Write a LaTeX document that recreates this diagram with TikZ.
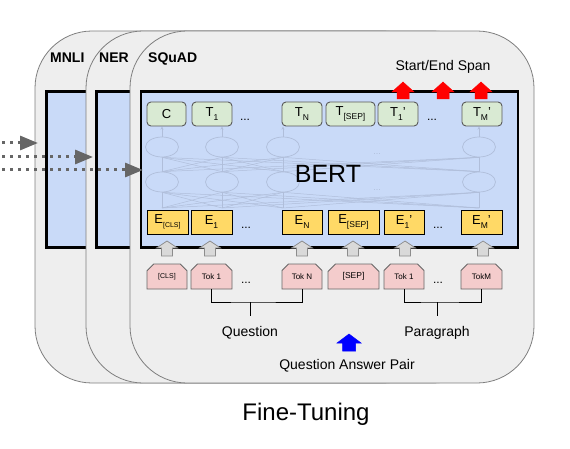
\documentclass[tikz,border=0pt]{standalone}
\usepackage{fontspec}
\setmainfont{Liberation Sans}
\usetikzlibrary{shapes.misc,shapes.geometric,arrows.meta}
\definecolor{cardfill}{HTML}{EEEEEE}
\definecolor{cardline}{HTML}{7F7F7F}
\definecolor{panelfill}{HTML}{C9DAF8}
\definecolor{tfill}{HTML}{D9EAD3}
\definecolor{tline}{HTML}{595959}
\definecolor{efill}{HTML}{FFD966}
\definecolor{tokfill}{HTML}{F4CCCC}
\definecolor{tokline}{HTML}{666666}
\definecolor{netc}{RGB}{176,190,218}
\definecolor{arrowgrey}{HTML}{666666}
\definecolor{upfill}{HTML}{D9D9D9}
\definecolor{upline}{HTML}{8C8C8C}
\newcommand\mysub[2][8.5]{\raisebox{-4.5pt}{\fontsize{#1}{#1}\selectfont #2}}
\newcommand\blkup[7]{\filldraw[#7] ({#1-#5},#3) -- ({#1-#5},{#2+#6}) -- ({#1-#4},{#2+#6}) -- (#1,#2) -- ({#1+#4},{#2+#6}) -- ({#1+#5},{#2+#6}) -- ({#1+#5},#3) -- cycle;}
\begin{document}
\begin{tikzpicture}[x=1pt,y=-1pt,
  card/.style={draw=cardline, fill=cardfill, line width=0.8pt, rounded corners=57pt},
  panel/.style={draw=black, fill=panelfill, line width=2.7pt},
  cardlabel/.style={font=\fontsize{14}{14}\selectfont\bfseries, anchor=base west, inner sep=0},
  tbox/.style={draw=tline, fill=tfill, rounded corners=4pt, line width=0.9pt, minimum height=24pt, inner sep=0, font=\fontsize{13}{13}\selectfont},
  ebox/.style={draw=black, fill=efill, line width=0.9pt, minimum height=24pt, inner sep=0, font=\fontsize{13}{13}\selectfont},
  tokbox/.style={chamfered rectangle, chamfered rectangle corners={north west,north east}, chamfered rectangle xsep=4pt, draw=tokline, fill=tokfill, line width=0.8pt, minimum height=25pt, inner sep=0, font=\fontsize{8}{8}\selectfont},
  dotsl/.style={font=\fontsize{12}{12}\selectfont, inner sep=0, anchor=base},
  lbl/.style={font=\fontsize{14}{14}\selectfont, anchor=base, inner sep=0},
  netline/.style={draw=netc, line width=0.5pt},
  netell/.style={ellipse, draw=netc, line width=0.7pt, minimum width=33pt, minimum height=20pt, inner sep=0},
  dotarrow/.style={draw=arrowgrey, line width=3pt, dash pattern=on 3pt off 5pt, -{Triangle[length=18pt,width=14pt,fill=arrowgrey]}},
  bracket/.style={draw=black, line width=0.9pt},
  greyup/.style={fill=upfill, draw=upline, line width=0.7pt},
  redup/.style={fill=red, draw=red, line width=0.5pt},
  blueup/.style={fill=blue, draw=blue, line width=0.5pt}
]
\useasboundingbox (0,0) rectangle (570,449);

% MNLI card
\draw[card] (35,31) rectangle (440,383);
\draw[panel] (46.7,91.5) rectangle (420,247.3);
\node[cardlabel] (mnli) at (50,63) {MNLI};
% NER card
\draw[card] (86,31) rectangle (490,383);
\draw[panel] (96.7,91.5) rectangle (470,247.3);
\node[cardlabel] (ner) at (99,63) {NER};
% SQuAD card
\draw[card] (130,31) rectangle (534,383);
\draw[panel] (141,91.5) rectangle (518,247.3);
\node[cardlabel] (squad) at (148,63) {SQuAD};

% faint network
\foreach \x [count=\k] in {162,222,283,479} {
  \node[netell] (u\k) at (\x,147) {};
  \node[netell] (l\k) at (\x,182) {};
  \coordinate (b\k) at (\x,208);
}
\foreach \i in {1,...,4} {
  \foreach \j in {1,...,4} {
    \draw[netline] (l\i.north) -- (u\j.south);
    \draw[netline] (b\i) -- (l\j.south);
  }
  \draw[netline,-{Stealth[length=3pt,width=3pt]}] (u\i.north) -- ++(0,-10);
}
\node[dotsl, text=netc, font=\fontsize{9}{9}\selectfont] (nd1) at (377,155) {...};
\node[dotsl, text=netc, font=\fontsize{9}{9}\selectfont] (nd2) at (377,190) {...};

\node[font=\fontsize{25}{25}\selectfont, anchor=base, inner sep=0] (bert) at (328,183) {BERT};

% top T row
\node[tbox, minimum width=39pt] (tc) at (166.5,114) {C};
\node[tbox, minimum width=40pt] (t1) at (212,114) {T\mysub{1}};
\node[dotsl] (td1) at (245,121) {...};
\node[tbox, minimum width=40pt] (tn) at (302,114) {T\mysub{N}};
\node[tbox, minimum width=49pt] (tsep) at (350.5,114) {T\mysub{[SEP]}};
\node[tbox, minimum width=40pt] (t1p) at (398,114) {T\mysub{1}'};
\node[dotsl] (td2) at (432,121) {...};
\node[tbox, minimum width=40pt] (tmp) at (482,114) {T\mysub{M}'};

% E row
\node[ebox, minimum width=41pt] (ecls) at (167.5,222) {E\mysub[7]{[CLS]}};
\node[ebox, minimum width=41pt] (e1) at (211.5,222) {E\mysub{1}};
\node[dotsl] (ed1) at (246,229) {...};
\node[ebox, minimum width=40pt] (en) at (302,222) {E\mysub{N}};
\node[ebox, minimum width=51pt] (esep) at (353.5,222) {E\mysub{[SEP]}};
\node[ebox, minimum width=40pt] (e1p) at (404,222) {E\mysub{1}'};
\node[dotsl] (ed2) at (438,229) {...};
\node[ebox, minimum width=41pt] (emp) at (481.5,222) {E\mysub{M}'};

% token row
\node[tokbox, minimum width=40pt, font=\fontsize{7}{7}\selectfont] (tcls) at (167,276.5) {[CLS]};
\node[tokbox, minimum width=41pt] (tok1) at (211.5,276.5) {Tok 1};
\node[dotsl] (tokd1) at (246,283) {...};
\node[tokbox, minimum width=40pt] (tokn) at (302,276.5) {Tok N};
\node[tokbox, minimum width=51pt, font=\fontsize{8.5}{8.5}\selectfont] (tksep) at (353.5,276.5) {[SEP]};
\node[tokbox, minimum width=40pt] (tokp1) at (404,276.5) {Tok 1};
\node[dotsl] (tokd2) at (438,283) {...};
\node[tokbox, minimum width=41pt] (tokm) at (481.5,276.5) {TokM};

% grey up arrows
\foreach \x in {167,210,302,353,405,483} {\blkup{\x}{241}{256}{10.5}{5.5}{7}{greyup}}
% red arrows
\foreach \x in {403,443,481} {\blkup{\x}{82}{99}{11}{6}{10}{redup}}
% blue arrow
\blkup{349}{334}{351}{12}{6.5}{9}{blueup}

% brackets
\coordinate (qmid) at (250,302);
\coordinate (qtick) at (250,316);
\coordinate (pmid) at (437,302);
\coordinate (ptick) at (437,316);
\draw[bracket] (tok1.south) |- (qmid) -| (tokn.south);
\draw[bracket] (qmid) -- (qtick);
\draw[bracket] (tokp1.south) |- (pmid) -| (tokm.south);
\draw[bracket] (pmid) -- (ptick);

% labels
\node[lbl] (span) at (443,71) {Start/End Span};
\node[lbl] (qlabel) at (250,336) {Question};
\node[lbl] (plabel) at (437,336.5) {Paragraph};
\node[lbl] (qap) at (347,369) {Question Answer Pair};
\node[font=\fontsize{24}{24}\selectfont, anchor=base, inner sep=0] (ft) at (306,420) {Fine-Tuning};

% dotted arrows
\coordinate (a1s) at (2,143); \coordinate (a1e) at (38,143);
\coordinate (a2s) at (2,157); \coordinate (a2e) at (93,157);
\coordinate (a3s) at (2,170); \coordinate (a3e) at (143,170);
\draw[dotarrow] (a1s) -- (a1e);
\draw[dotarrow] (a2s) -- (a2e);
\draw[dotarrow] (a3s) -- (a3e);
\end{tikzpicture}
\end{document}
